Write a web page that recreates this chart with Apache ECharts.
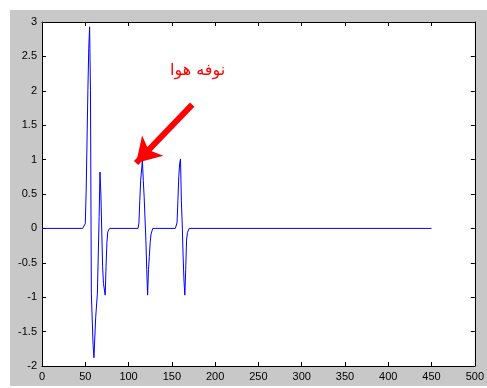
<!DOCTYPE html>
<html>
<head>
<meta charset="utf-8">
<script src="https://cdn.jsdelivr.net/npm/echarts@6/dist/echarts.min.js"></script>
<style>
html,body{margin:0;padding:0;background:#fff;}
#wrap{position:relative;width:487px;height:388px;overflow:hidden;}
#bg{position:absolute;left:10px;top:10px;width:477px;height:376px;background:#c8c8c8;}
#chart{position:absolute;left:0;top:0;width:487px;height:388px;}
</style>
</head>
<body>
<div id="wrap"><div id="bg"></div><div id="chart"></div></div>
<script>
// Signal samples (x positions and amplitudes)
var sampleX = [0, 47, 50, 51, 53, 54, 55, 56, 57, 59, 60, 62, 64, 66, 67, 68, 70, 71, 73, 74, 75, 76, 78,
  111, 112, 113, 114, 116, 117, 118, 120, 121, 122, 123, 124, 125, 126, 128,
  154, 156, 157, 158, 159, 160, 161, 162, 163, 164, 165, 166, 167, 168, 170, 450];
var sampleY = [0, 0, 0.07, 0.53, 2.0, 2.61, 2.93, 2.0, -0.94, -1.69, -1.88, -1.3, -0.94, 0.17, 0.82, 0.5, -0.55, -0.8, -0.97, -0.55, -0.2, -0.05, 0,
  0, 0.08, 0.41, 0.7, 0.99, 0.7, 0.46, -0.17, -0.6, -0.97, -0.6, -0.41, -0.2, -0.08, 0,
  0, 0.08, 0.41, 0.75, 0.94, 1.01, 0.4, 0.05, -0.4, -0.75, -0.97, -0.6, -0.17, -0.06, 0, 0];
var xTicks = [0, 50, 100, 150, 200, 250, 300, 350, 400, 450, 500];
var yTicks = [-2, -1.5, -1, -0.5, 0, 0.5, 1, 1.5, 2, 2.5, 3];
var annotationText = 'نوفه هوا';
var arrowFrom = [173.5, 1.8];
var arrowTo = [108.7, 0.95];

var data = sampleX.map(function (x, i) { return [x, sampleY[i]]; });
var font = 'Liberation Sans, Arial, sans-serif';
var axisCommon = {
  axisLine: { show: true, onZero: false, lineStyle: { color: '#000', width: 1 } },
  axisTick: { show: true, inside: true, length: 4, lineStyle: { color: '#000' } },
  splitLine: { show: false }
};
function fmt(v) { return String(v); }

var chart = echarts.init(document.getElementById('chart'), null, { renderer: 'canvas' });
chart.setOption({
  backgroundColor: 'transparent',
  animation: false,
  grid: { left: 42, top: 22, width: 437, height: 344, show: true, backgroundColor: '#fff', borderWidth: 0 },
  xAxis: [
    Object.assign({ type: 'value', position: 'bottom', min: xTicks[0], max: xTicks[xTicks.length - 1], interval: 50,
      axisLabel: { color: '#000', fontFamily: font, fontSize: 11, margin: 5, formatter: fmt } }, axisCommon),
    Object.assign({ type: 'value', position: 'top', min: xTicks[0], max: xTicks[xTicks.length - 1], interval: 50,
      axisLabel: { show: false } }, axisCommon)
  ],
  yAxis: [
    Object.assign({ type: 'value', position: 'left', min: yTicks[0], max: yTicks[yTicks.length - 1], interval: 0.5,
      axisLabel: { color: '#000', fontFamily: font, fontSize: 11, margin: 5, formatter: fmt } }, axisCommon),
    Object.assign({ type: 'value', position: 'right', min: yTicks[0], max: yTicks[yTicks.length - 1], interval: 0.5,
      axisLabel: { show: false } }, axisCommon)
  ],
  graphic: [{
    type: 'text', left: 170, top: 63, z: 100,
    style: { text: annotationText, fill: '#ff0000', font: '16px "DejaVu Sans", sans-serif' }
  }],
  series: [{
    type: 'line',
    data: data,
    showSymbol: false,
    lineStyle: { color: '#0000ff', width: 1 },
    itemStyle: { color: '#0000ff' },
    markLine: {
      silent: true,
      symbol: ['none', 'arrow'],
      symbolSize: [22, 24],
      label: { show: false },
      lineStyle: { color: '#ff0000', width: 6, type: 'solid' },
      itemStyle: { color: '#ff0000' },
      data: [[{ coord: arrowFrom }, { coord: arrowTo }]]
    }
  }]
});
</script>
</body>
</html>
